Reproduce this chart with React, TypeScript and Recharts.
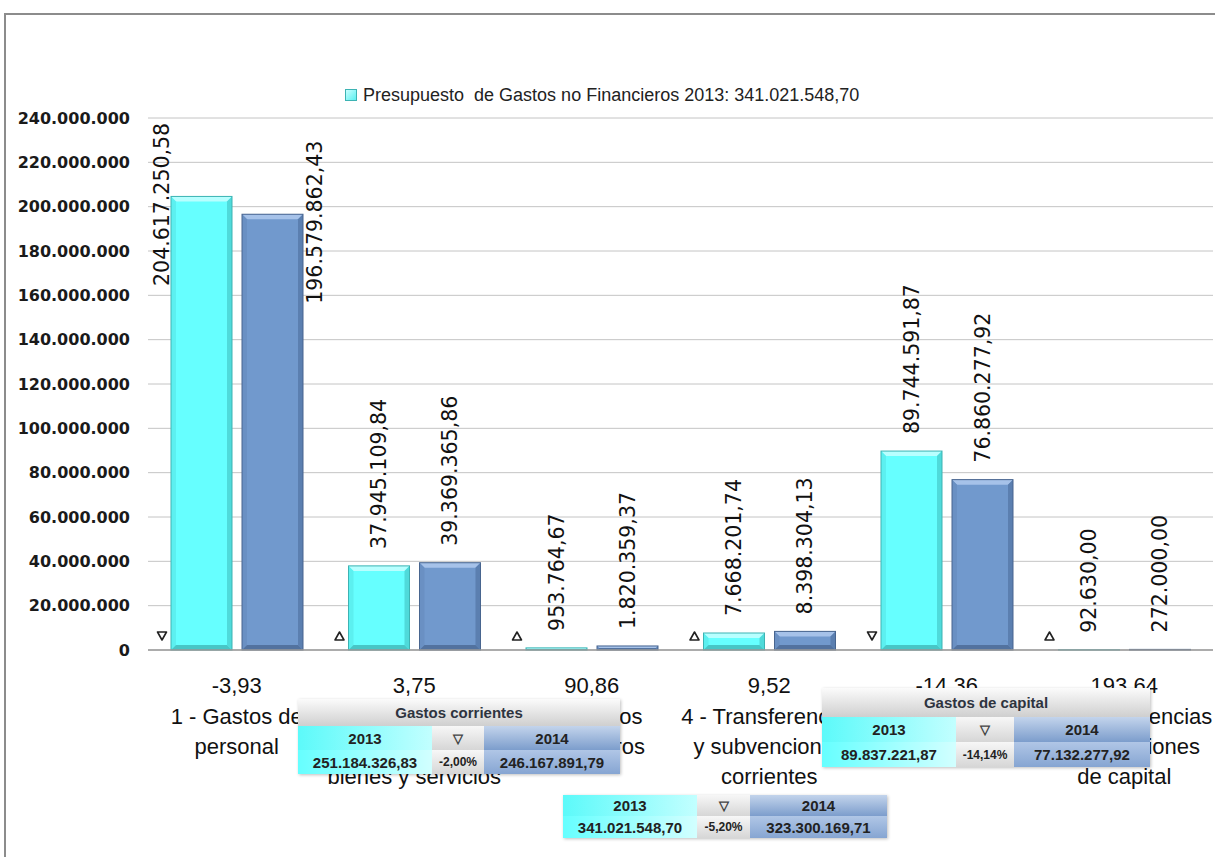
import React from 'react';
import { BarChart, Bar, XAxis, YAxis, CartesianGrid, LabelList } from 'recharts';

// chapters of the budget (lines as drawn under each group)
const categoryLines = [
  ['1 - Gastos de', 'personal'],
  ['2 - Gastos', 'corrientes en', 'bienes y servicios'],
  ['3 - Gastos', 'financieros'],
  ['4 - Transferencias', 'y subvenciones', 'corrientes'],
  ['6 - Inversiones', 'reales'],
  ['7 - Transferencias', 'y subvenciones', 'de capital'],
];
const values2013 = [204617250.58, 37945109.84, 953764.67, 7668201.74, 89744591.87, 92630.0];
const values2014 = [196579862.43, 39369365.86, 1820359.37, 8398304.13, 76860277.92, 272000.0];
const pctChange = [-3.93, 3.75, 90.86, 9.52, -14.36, 193.64];
const yTicks = [0, 20e6, 40e6, 60e6, 80e6, 100e6, 120e6, 140e6, 160e6, 180e6, 200e6, 220e6, 240e6];

// summary boxes
const boxTitles = ['Gastos corrientes', 'Gastos de capital', ''];
const boxTotals2013 = [251184326.83, 89837221.87, 341021548.7];
const boxTotals2014 = [246167891.79, 77132277.92, 323300169.71];
const boxPct = [-2.0, -14.14, -5.2];
const legendText = 'Presupuesto  de Gastos no Financieros 2013: 341.021.548,70';

const data = categoryLines.map((lines, i) => ({
  name: lines.join(' '),
  v2013: values2013[i],
  v2014: values2014[i],
}));

const fmt = (v: number, d = 2) => {
  const [i, f] = Math.abs(v).toFixed(d).split('.');
  const s = i.replace(/\B(?=(\d{3})+(?!\d))/g, '.');
  return (v < 0 ? '-' : '') + s + (f ? ',' + f : '');
};

const PLOT_TOP = 118;
const LABEL_FS = 20.5;
const labelLen = (s: string) =>
  s.split('').reduce((a, c) => a + (/\d/.test(c) ? 0.636 : 0.318), 0) * LABEL_FS;

const palettes = [
  { face: '#66FFFF', top: '#B8FFFF', left: '#5CF0F0', right: '#4FDADA', bottom: '#47C6C6', stroke: '#3DB3B3' },
  { face: '#7199CD', top: '#A6C2E9', left: '#6A90C3', right: '#5B7FB0', bottom: '#52729F', stroke: '#48658F' },
];

const bevelBar = (p: typeof palettes[0]) => (props: any) => {
  const { x, y, width, height } = props;
  if (!height || height <= 0) return null;
  const b = Math.min(5, height / 2, width / 2);
  const x2 = x + width;
  const y2 = y + height;
  return (
    <g>
      <rect x={x} y={y} width={width} height={height} fill={p.face} />
      <polygon points={`${x},${y} ${x2},${y} ${x2 - b},${y + b} ${x + b},${y + b}`} fill={p.top} />
      <polygon points={`${x},${y} ${x + b},${y + b} ${x + b},${y2 - b} ${x},${y2}`} fill={p.left} />
      <polygon points={`${x2},${y} ${x2 - b},${y + b} ${x2 - b},${y2 - b} ${x2},${y2}`} fill={p.right} />
      <polygon points={`${x},${y2} ${x + b},${y2 - b} ${x2 - b},${y2 - b} ${x2},${y2}`} fill={p.bottom} />
      <rect x={x} y={y} width={width} height={height} fill="none" stroke={p.stroke} strokeWidth={1} />
    </g>
  );
};

const valueLabel = (series: number) => (props: any) => {
  const { x, y, width, value } = props;
  const text = fmt(value);
  const len = labelLen(text);
  let cx = x + width / 2;
  let anchorY = y - 17;
  if (anchorY - len < PLOT_TOP + 4) {
    // no room above the bar: put it beside it
    cx = series === 0 ? x - 9 : x + width + 12;
    anchorY = y + 8 + len / 2;
  }
  return (
    <text
      x={cx}
      y={anchorY}
      dy="0.36em"
      transform={`rotate(-90 ${cx} ${anchorY})`}
      textAnchor="start"
      fontFamily="'DejaVu Sans', sans-serif"
      fontSize={LABEL_FS}
      fill="#111"
    >
      {text}
    </text>
  );
};

const changeMarker = (props: any) => {
  const { x, y, height, index } = props;
  const cx = x - 9;
  const cy = y + height - 14;
  const up = pctChange[index] >= 0;
  const pts = up
    ? `${cx - 4.5},${cy + 4} ${cx + 4.5},${cy + 4} ${cx},${cy - 4}`
    : `${cx - 4.5},${cy - 4} ${cx + 4.5},${cy - 4} ${cx},${cy + 4}`;
  return <polygon points={pts} fill="#fff" stroke="#222" strokeWidth={1.6} strokeLinejoin="round" />;
};

const CategoryTick = (props: any) => {
  const { x, y, index } = props;
  const lines = categoryLines[index] || [];
  return (
    <g fontFamily="'Liberation Sans', Arial, sans-serif" fontSize={22} fill="#111" textAnchor="middle">
      <text x={x} y={y + 35} textAnchor="middle">{fmt(pctChange[index])}</text>
      {lines.map((l, i) => (
        <text key={i} x={x} y={y + 66 + i * 30} textAnchor="middle">{l}</text>
      ))}
    </g>
  );
};

const LegendBox = () => (
  <div
    style={{
      position: 'absolute',
      left: 345,
      top: 84,
      height: 22,
      display: 'flex',
      alignItems: 'center',
      fontFamily: "'Liberation Sans', Arial, sans-serif",
      fontSize: 18,
      color: '#222',
      whiteSpace: 'pre',
    }}
  >
    <span
      style={{
        display: 'inline-block',
        width: 10,
        height: 10,
        marginRight: 6,
        background: 'linear-gradient(135deg, #C8FFFF, #5CF0F0)',
        border: '1px solid #3DB3B3',
      }}
    />
    {legendText}
  </div>
);

const cellBase: React.CSSProperties = {
  display: 'flex',
  alignItems: 'center',
  justifyContent: 'center',
  fontFamily: "'Liberation Sans', Arial, sans-serif",
  fontWeight: 'bold',
  fontSize: 15,
  color: '#222',
  boxSizing: 'border-box',
};

const SummaryBox: React.FC<{ i: number; left: number; top: number; widths: number[]; rowH: number[] }> = ({
  i,
  left,
  top,
  widths,
  rowH,
}) => {
  const total = widths[0] + widths[1] + widths[2];
  const down = boxPct[i] < 0;
  const cyan = 'linear-gradient(to right, #5CFAFA, #C2FFFF)';
  const blue = 'linear-gradient(to bottom, #C3D4EC, #7C9DCC)';
  const blueVal = 'linear-gradient(to bottom, #B0C6E6, #86A5D2)';
  const gray = 'linear-gradient(to bottom, #F7F7F7, #D6D6D6)';
  let r = 0;
  return (
    <div
      style={{
        position: 'absolute',
        left,
        top,
        width: total,
        boxShadow: '1px 1px 3px rgba(0,0,0,0.25)',
        background: '#fff',
      }}
    >
      {boxTitles[i] && (
        <div style={{ ...cellBase, height: rowH[r++], background: 'linear-gradient(to bottom, #FBFBFB, #CFCFCF)', color: '#2E3440' }}>
          {boxTitles[i]}
        </div>
      )}
      <div style={{ display: 'flex', height: rowH[r++] }}>
        <div style={{ ...cellBase, width: widths[0], background: cyan }}>2013</div>
        <div style={{ ...cellBase, width: widths[1], background: gray, fontSize: 13, color: '#444' }}>
          {down ? '▽' : '△'}
        </div>
        <div style={{ ...cellBase, width: widths[2], background: blue }}>2014</div>
      </div>
      <div style={{ display: 'flex', height: rowH[r++] }}>
        <div style={{ ...cellBase, width: widths[0], background: 'linear-gradient(to right, #66FFFF, #D2FFFF)' }}>
          {fmt(boxTotals2013[i])}
        </div>
        <div style={{ ...cellBase, width: widths[1], background: gray, fontSize: 12 }}>{fmt(boxPct[i]) + '%'}</div>
        <div style={{ ...cellBase, width: widths[2], background: blueVal }}>{fmt(boxTotals2014[i])}</div>
      </div>
    </div>
  );
};

export default function App() {
  return (
    <div style={{ position: 'absolute', left: 0, top: 0, width: 1215, height: 857, background: '#fff', overflow: 'hidden' }}>
      {/* frame */}
      <div style={{ position: 'absolute', left: 4, top: 13, width: 1215, height: 860, borderLeft: '2px solid #8C8C8C', borderTop: '2px solid #8C8C8C' }} />
      <div style={{ position: 'absolute', left: 0, top: 0 }}>
        <BarChart
          width={1215}
          height={857}
          data={data}
          margin={{ top: PLOT_TOP, right: 2, bottom: 57, left: 0 }}
          barSize={61}
          barGap={10}
        >
          <CartesianGrid vertical={false} stroke="#C4C4C4" strokeWidth={1} />
          <XAxis
            dataKey="name"
            interval={0}
            height={150}
            tickLine={false}
            axisLine={{ stroke: '#9A9A9A', strokeWidth: 1.5 }}
            tick={<CategoryTick />}
          />
          <YAxis
            width={148}
            domain={[0, 240e6]}
            ticks={yTicks}
            axisLine={false}
            tickLine={false}
            tickSize={6}
            tickMargin={12}
            tickFormatter={(v: number) => fmt(v, 0)}
            tick={{ fontFamily: "'DejaVu Sans', sans-serif", fontSize: 16, fontWeight: 'bold', fill: '#1A1A1A' }}
          />
          <Bar dataKey="v2013" isAnimationActive={false} shape={bevelBar(palettes[0])}>
            <LabelList dataKey="v2013" content={valueLabel(0)} />
            <LabelList dataKey="v2013" content={changeMarker} />
          </Bar>
          <Bar dataKey="v2014" isAnimationActive={false} shape={bevelBar(palettes[1])}>
            <LabelList dataKey="v2014" content={valueLabel(1)} />
          </Bar>
        </BarChart>
      </div>
      <LegendBox />
      <SummaryBox i={0} left={298} top={699} widths={[134, 52, 136]} rowH={[27, 24, 24]} />
      <SummaryBox i={1} left={822} top={688} widths={[134, 58, 136]} rowH={[29, 25, 25]} />
      <SummaryBox i={2} left={563} top={795} widths={[134, 53, 137]} rowH={[21, 22]} />
    </div>
  );
}
